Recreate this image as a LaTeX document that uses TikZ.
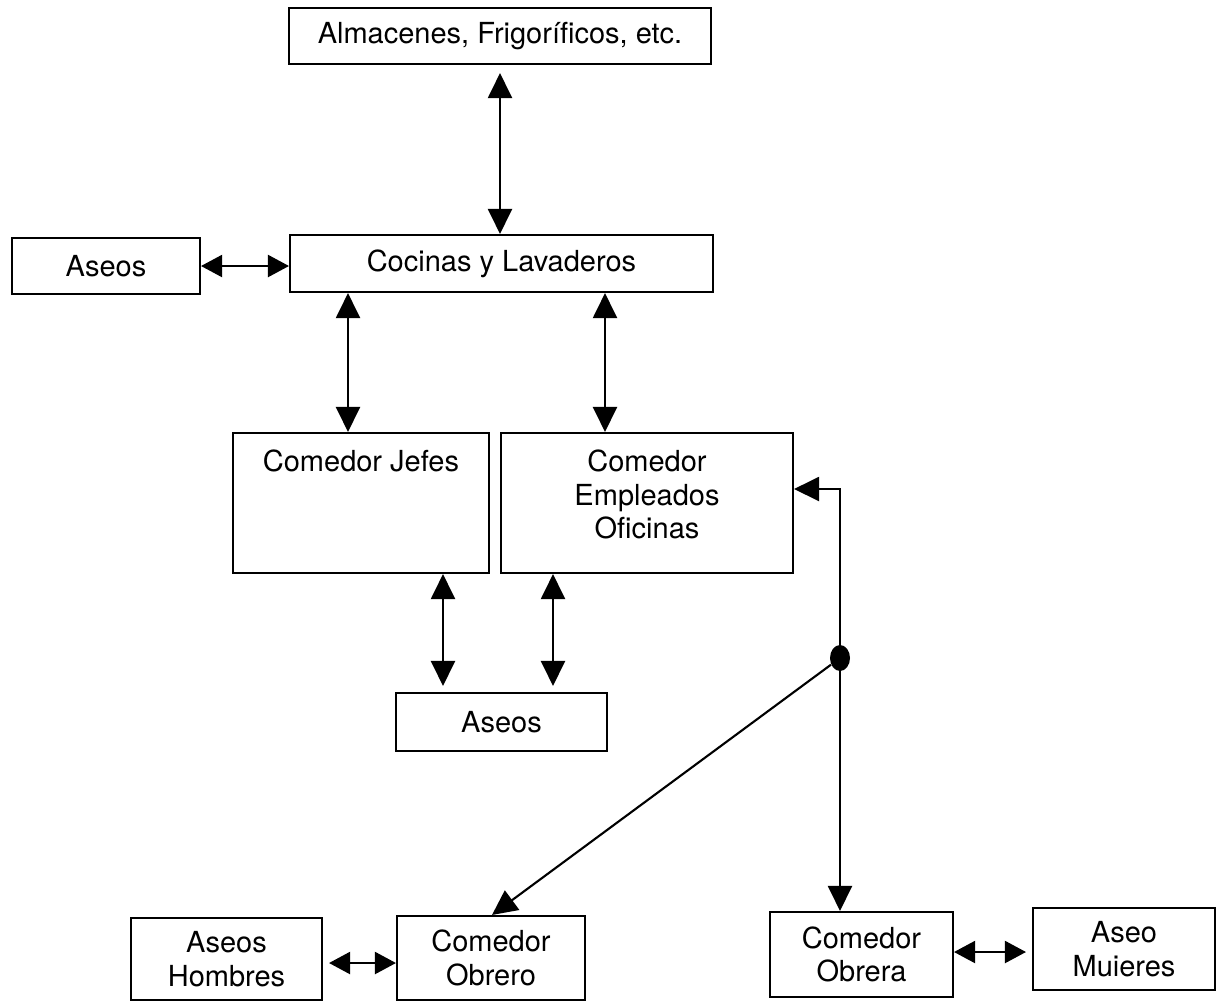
\documentclass[tikz,border=0pt]{standalone}
\usepackage{fontspec}
\setmainfont{TeX Gyre Heros}
\usetikzlibrary{arrows.meta,shapes.geometric,calc}
\begin{document}
\begin{tikzpicture}[x=0.02cm,y=-0.02cm,
  box/.style={draw=black,line width=1.2pt,inner sep=0pt,align=center,
    font=\fontsize{16.5}{19}\selectfont},
  con/.style={line width=1.2pt,draw=black},
  biarr/.style={con,{Triangle[length=0.5cm,width=0.48cm]}-{Triangle[length=0.5cm,width=0.48cm]}},
  onearr/.style={con,-{Triangle[length=0.5cm,width=0.48cm]}},
  hbiarr/.style={con,{Triangle[length=0.42cm,width=0.44cm]}-{Triangle[length=0.42cm,width=0.44cm]}}]
\useasboundingbox (0,0) rectangle (1223,1005);

% boxes
\node[box,minimum width=8.44cm,minimum height=1.12cm] (alm) at (500,36) {Almacenes, Frigoríficos, etc.};
\node[box,minimum width=3.76cm,minimum height=1.12cm] (aseosL) at (106,266) {Aseos};
\node[box,minimum width=8.46cm,minimum height=1.14cm] (coc) at (501.5,263.5) {Cocinas y Lavaderos};
\node[box,minimum width=5.12cm,minimum height=2.8cm] (jefes) at (361,503)
  {\parbox[c][2.8cm][t]{5.12cm}{\centering\rule{0pt}{22pt}Comedor Jefes}};
\node[box,minimum width=5.84cm,minimum height=2.8cm] (emp) at (647,503)
  {\parbox[c][2.8cm][t]{5.84cm}{\centering\rule{0pt}{22pt}Comedor\\Empleados\\Oficinas}};
\node[box,minimum width=4.22cm,minimum height=1.16cm] (aseosM) at (501.5,722) {Aseos};
\node[box,minimum width=3.82cm,minimum height=1.64cm] (hom) at (226.5,959) {Aseos\\Hombres};
\node[box,minimum width=3.76cm,minimum height=1.68cm] (obrero) at (491,958) {Comedor\\Obrero};
\node[box,minimum width=3.66cm,minimum height=1.70cm] (obrera) at (861.5,954.5) {Comedor\\Obrera};
\node[box,minimum width=3.64cm,minimum height=1.64cm] (mujeres) at (1124,949) {Aseo\\Muieres};

% junction dot
\node[fill=black,ellipse,inner sep=0pt,minimum width=0.4cm,minimum height=0.52cm] (dot) at (840,658) {};

% helper coordinates
\coordinate (x500) at (500,0);
\coordinate (x348) at (348,0);
\coordinate (x605) at (605,0);
\coordinate (x443) at (443,0);
\coordinate (x553) at (553,0);
\coordinate (x492) at (492,0);
\coordinate (bend) at (840,489);

% connectors
\draw[biarr,shorten <=0.16cm] (alm.south -| x500) -- (coc.north -| x500);
\draw[hbiarr] (aseosL.east) -- (aseosL.east -| coc.west);
\draw[biarr] (coc.south -| x348) -- (jefes.north -| x348);
\draw[biarr] (coc.south -| x605) -- (emp.north -| x605);
\draw[biarr,shorten >=0.12cm] (jefes.south -| x443) -- (aseosM.north -| x443);
\draw[biarr,shorten >=0.12cm] (emp.south -| x553) -- (aseosM.north -| x553);
\draw[onearr] (dot.north) -- (bend) -- (bend -| emp.east);
\draw[onearr] (dot.south) -- (dot |- obrera.north);
\draw[onearr] (dot) -- (obrero.north -| x492);
\draw[hbiarr,shorten <=0.12cm] (hom.east |- 0,963) -- (obrero.west |- 0,963);
\draw[hbiarr,shorten >=0.12cm] (obrera.east |- 0,952) -- (mujeres.west |- 0,952);
\end{tikzpicture}
\end{document}
